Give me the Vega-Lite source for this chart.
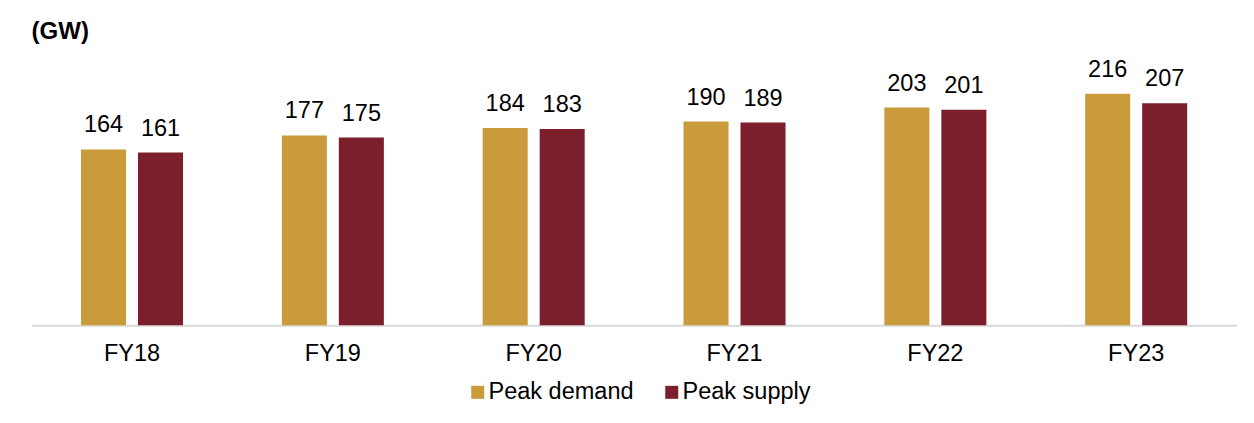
{
  "$schema": "https://vega.github.io/schema/vega-lite/v6.json",
  "width": 1205,
  "height": 268,
  "autosize": {"type": "none"},
  "padding": {"left": 31.6, "top": 57.2, "right": 17.4, "bottom": 97.8},
  "background": "#ffffff",
  "config": {
    "font": "Liberation Sans",
    "view": {"stroke": null},
    "axis": {"grid": false}
  },
  "title": {
    "text": "(GW)",
    "anchor": "start",
    "frame": "group",
    "fontSize": 24,
    "fontWeight": "bold",
    "font": "Liberation Sans",
    "color": "#000000",
    "baseline": "alphabetic",
    "offset": 16,
    "dy": 22
  },
  "data": {
    "values": [
      {"year": "FY18", "series": "Peak demand", "value": 164},
      {"year": "FY18", "series": "Peak supply", "value": 161},
      {"year": "FY19", "series": "Peak demand", "value": 177},
      {"year": "FY19", "series": "Peak supply", "value": 175},
      {"year": "FY20", "series": "Peak demand", "value": 184},
      {"year": "FY20", "series": "Peak supply", "value": 183},
      {"year": "FY21", "series": "Peak demand", "value": 190},
      {"year": "FY21", "series": "Peak supply", "value": 189},
      {"year": "FY22", "series": "Peak demand", "value": 203},
      {"year": "FY22", "series": "Peak supply", "value": 201},
      {"year": "FY23", "series": "Peak demand", "value": 216},
      {"year": "FY23", "series": "Peak supply", "value": 207}
    ]
  },
  "encoding": {
    "x": {
      "field": "year",
      "type": "nominal",
      "sort": null,
      "scale": {"paddingInner": 0.492, "paddingOuter": 0.246},
      "axis": {
        "title": null,
        "labelAngle": 0,
        "labelFontSize": 23.5,
        "labelColor": "#000000",
        "labelFont": "Liberation Sans",
        "labelPadding": 16,
        "labelBaseline": "top",
        "ticks": false,
        "tickSize": 0,
        "domain": true,
        "domainColor": "#d9d9d9",
        "domainWidth": 2
      }
    },
    "xOffset": {
      "field": "series",
      "type": "nominal",
      "sort": ["Peak demand", "Peak supply"],
      "scale": {"paddingInner": 0.21, "paddingOuter": 0}
    },
    "y": {
      "field": "value",
      "type": "quantitative",
      "scale": {"domain": [0, 250], "nice": false, "zero": true},
      "axis": null
    }
  },
  "layer": [
    {
      "mark": {"type": "bar"},
      "encoding": {
        "color": {
          "field": "series",
          "type": "nominal",
          "sort": ["Peak demand", "Peak supply"],
          "scale": {"domain": ["Peak demand", "Peak supply"], "range": ["#C99B3B", "#7C1F2C"]},
          "legend": {
            "title": null,
            "orient": "none",
            "legendX": 434.4,
            "legendY": 323,
            "direction": "horizontal",
            "padding": 0,
            "symbolType": "square",
            "symbolSize": 169,
            "symbolStrokeWidth": 0,
            "labelFontSize": 23.5,
            "labelFont": "Liberation Sans",
            "labelColor": "#000000",
            "labelOffset": -1,
            "columnPadding": 26
          }
        }
      }
    },
    {
      "mark": {
        "type": "text",
        "baseline": "alphabetic",
        "dy": -17,
        "fontSize": 23.5,
        "font": "Liberation Sans",
        "color": "#000000"
      },
      "encoding": {
        "text": {"field": "value", "type": "quantitative"}
      }
    }
  ]
}
